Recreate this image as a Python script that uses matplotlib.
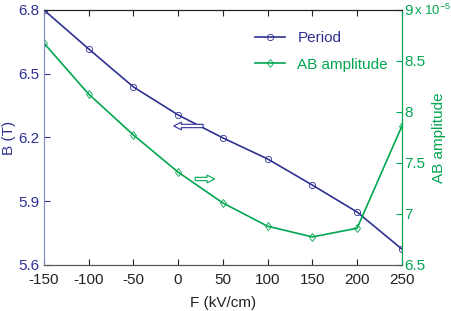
import matplotlib.pyplot as plt

field = [-150, -100, -50, 0, 50, 100, 150, 200, 250]
period_b = [6.80, 6.617, 6.438, 6.306, 6.198, 6.099, 5.976, 5.849, 5.675]
ab_amp = [8.676, 8.176, 7.775, 7.41, 7.108, 6.88, 6.775, 6.86, 7.86]  # x 1e-5

BLUE = "#2e3192"
GREEN = "#00a650"

plt.rcParams["font.family"] = ["Liberation Sans", "DejaVu Sans"]
plt.rcParams["font.size"] = 11
plt.rcParams["axes.unicode_minus"] = False
plt.rcParams["mathtext.fontset"] = "custom"
plt.rcParams["mathtext.rm"] = "Liberation Sans"

fig = plt.figure(figsize=(4.52, 3.11), dpi=100)
ax = fig.add_axes([0.097, 0.148, 0.792, 0.82])
ax2 = ax.twinx()

l1, = ax.plot(field, period_b, color=BLUE, lw=1.2, marker="o", ms=4.5,
              mfc="none", mew=0.6, label="Period")
l2, = ax2.plot(field, ab_amp, color=GREEN, lw=1.2, marker="d", ms=4.5,
               mfc="none", mew=0.6, label="AB amplitude")

ax.set_xlim(-150, 250)
ax.set_ylim(5.6, 6.8)
ax.set_xticks(range(-150, 251, 50))
ax.set_yticks([5.6, 5.9, 6.2, 6.5, 6.8])
ax2.set_ylim(6.5, 9)
ax2.set_yticks([6.5, 7, 7.5, 8, 8.5, 9])
ax2.set_yticklabels(["6.5", "7", "7.5", "8", "8.5", "9"])

ax.tick_params(axis="x", direction="in", top=True, colors="#222222",
               length=4, pad=6)
ax.tick_params(axis="y", direction="in", colors=BLUE, length=4, pad=3)
ax2.tick_params(axis="y", direction="in", colors=GREEN, length=4, pad=2)
for a in (ax, ax2):
    a.spines["left"].set_color("#8890c8")
    a.spines["right"].set_color(GREEN)
    a.spines["top"].set_color("#222222")
    a.spines["bottom"].set_color("#555555")

ax.set_xlabel("F (kV/cm)", color="#222222", labelpad=6)
ax.set_ylabel("B (T)", color=BLUE, labelpad=2)
ax2.set_ylabel("AB amplitude", color=GREEN)
ax2.yaxis.set_label_coords(1.085, 0.5)
ax2.text(1.035, 1.0, r"x 10$^{\mathrm{-5}}$", transform=ax2.transAxes,
         color=GREEN, ha="left", va="center", fontsize=9.5)

ax.annotate("", xy=(-8, 6.254), xytext=(31, 6.254),
            arrowprops=dict(arrowstyle="simple,head_length=0.5,head_width=0.5,tail_width=0.22",
                            fc="white", ec=BLUE, lw=0.8))
ax2.annotate("", xy=(44, 7.343), xytext=(16, 7.343),
             arrowprops=dict(arrowstyle="simple,head_length=0.5,head_width=0.5,tail_width=0.22",
                             fc="white", ec=GREEN, lw=0.8))

leg = ax2.legend(handles=[l1, l2], loc="upper right", frameon=False,
                 bbox_to_anchor=(1.0, 0.97), handlelength=2.0, labelspacing=0.8)
for txt, c in zip(leg.get_texts(), (BLUE, GREEN)):
    txt.set_color(c)

fig.savefig("out.png", dpi=100)
